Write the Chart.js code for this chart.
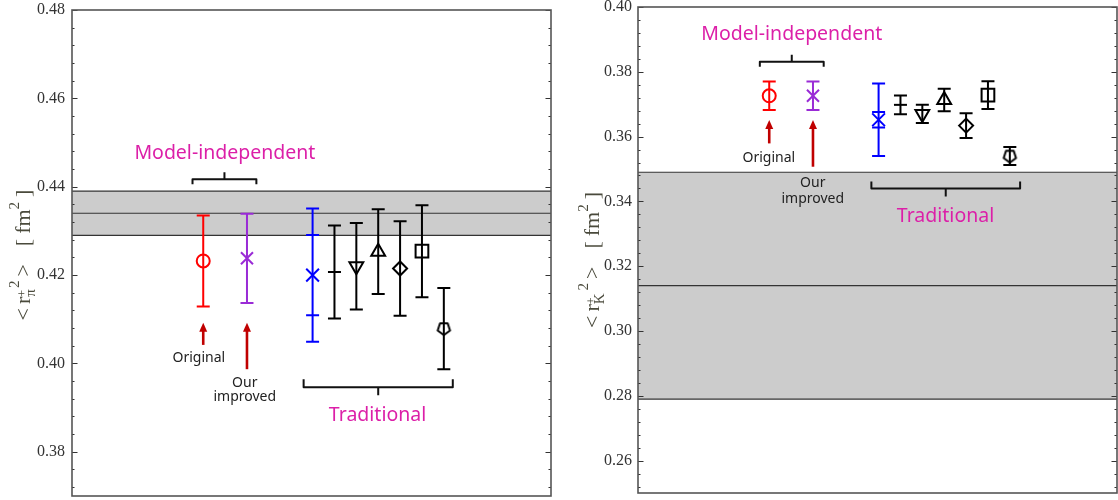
<!DOCTYPE html>
<html><head><meta charset="utf-8">
<script src="https://cdn.jsdelivr.net/npm/chart.js@4.4.1/dist/chart.umd.min.js"></script>
<style>
html,body{margin:0;padding:0;background:#fff;}
body{width:1118px;height:500px;overflow:hidden;position:relative;}
.wrap{position:absolute;top:0;width:559px;height:500px;}
.fontwarm{position:absolute;left:-2000px;top:0;white-space:nowrap;}
</style>
</head><body>
<span class="fontwarm" style="font:16px 'Liberation Serif'">0.48 fm π K + 2 &lt; &gt; [ ]</span>
<span class="fontwarm" style="font:18px 'Noto Sans'">Model-independent Traditional Original Our improved</span>
<div class="wrap" style="left:0"><canvas id="c1" width="559" height="500"></canvas></div>
<div class="wrap" style="left:559px"><canvas id="c2" width="559" height="500"></canvas></div>
<script>
// ---------- data ----------
const slots = [6, 8, 11, 12, 13, 14, 15, 16, 17];
const markerStyles = ['circle', 'crossRot', 'crossRot', 'line', 'triangle', 'triangle', 'rectRot', 'rect', 'pentagon'];
const markerRotation = [0, 0, 0, 0, 180, 0, 0, 0, 0];
const markerRadius = [6.5, 8.5, 9, 6.5, 8, 8, 7, 9, 6];
const markerColors = ['#ff0000', '#9a2bd6', '#0000ff', '#000000', '#000000', '#000000', '#000000', '#000000', '#000000'];

const piValues = [0.4232, 0.4238, 0.4200, 0.4207, 0.4220, 0.4253, 0.4215, 0.4254, 0.4079];
const piErrors = [0.0103, 0.0101, 0.0151, 0.0105, 0.0098, 0.0096, 0.0107, 0.0104, 0.0092];
const piInnerErrors = [0, 0, 0.0091, 0, 0, 0, 0, 0, 0];
const piBand = [0.4290, 0.4340, 0.4390];
const piTicks = [0.38, 0.40, 0.42, 0.44, 0.46, 0.48];

const kValues = [0.3726, 0.3726, 0.3652, 0.3698, 0.3670, 0.3713, 0.3634, 0.3728, 0.3540];
const kErrors = [0.0044, 0.0044, 0.0112, 0.0029, 0.0028, 0.0035, 0.0038, 0.0043, 0.0028];
const kInnerErrors = [0, 0, 0.0024, 0, 0, 0, 0, 0, 0];
const kBand = [0.279, 0.314, 0.349];
const kTicks = [0.26, 0.28, 0.30, 0.32, 0.34, 0.36, 0.38, 0.40];

const MAGENTA = '#dc1fa8';
const ARROW = '#c00000';
const SERIF = "'Liberation Serif'";
const SANS = "'Noto Sans'";

// ---------- helpers ----------
function pentagonImg(r, color, lw) {
  const s = Math.ceil(2 * r + lw * 2 + 2);
  const c = document.createElement('canvas');
  c.width = c.height = s;
  const g = c.getContext('2d');
  g.strokeStyle = color; g.lineWidth = lw; g.lineJoin = 'round';
  g.beginPath();
  for (let k = 0; k < 5; k++) {
    const a = Math.PI / 2 + k * 2 * Math.PI / 5;
    const px = s / 2 + r * Math.cos(a), py = s / 2 + r * Math.sin(a);
    k ? g.lineTo(px, py) : g.moveTo(px, py);
  }
  g.closePath(); g.stroke();
  return c;
}
const pentagon = pentagonImg(6.5, '#000', 2);
const pointStyles = markerStyles.map(s => s === 'pentagon' ? pentagon : s);

function drawRich(ctx, cx, cy, segs, color) {
  ctx.save();
  ctx.translate(cx, cy);
  ctx.rotate(-Math.PI / 2);
  ctx.fillStyle = color;
  ctx.textBaseline = 'alphabetic';
  ctx.textAlign = 'left';
  let total = 0;
  segs.forEach(s => {
    ctx.font = s.size + 'px ' + SERIF;
    s.w = ctx.measureText(s.t).width;
    if (!s.stack) total += s.w + (s.gap || 0);
  });
  let xx = -total / 2;
  let lastX = xx;
  segs.forEach(s => {
    ctx.font = s.size + 'px ' + SERIF;
    if (s.stack) {
      ctx.fillText(s.t, lastX, s.dy || 0);
    } else {
      xx += (s.gap || 0);
      lastX = xx;
      ctx.fillText(s.t, xx, s.dy || 0);
      xx += s.w;
    }
  });
  ctx.restore();
}

function makePanelPlugin(cfg) {
  return {
    id: 'panel' + cfg.id,
    beforeDatasetsDraw(chart) {
      const { ctx, chartArea: a, scales: { x, y } } = chart;
      ctx.save();
      const yl = y.getPixelForValue(cfg.band[0]);
      const ym = y.getPixelForValue(cfg.band[1]);
      const yh = y.getPixelForValue(cfg.band[2]);
      ctx.fillStyle = '#cccccc';
      ctx.fillRect(a.left, yh, a.right - a.left, yl - yh);
      ctx.strokeStyle = '#333';
      ctx.lineWidth = 1.2;
      [yl, ym, yh].forEach(p => {
        ctx.beginPath(); ctx.moveTo(a.left, p); ctx.lineTo(a.right, p); ctx.stroke();
      });
      ctx.lineWidth = 2;
      ctx.lineCap = 'butt';
      cfg.values.forEach((v, i) => {
        const px = x.getPixelForValue(slots[i]);
        const top = y.getPixelForValue(v + cfg.errors[i]);
        const bot = y.getPixelForValue(v - cfg.errors[i]);
        ctx.strokeStyle = markerColors[i];
        ctx.beginPath();
        ctx.moveTo(px, top); ctx.lineTo(px, bot);
        const cw = 6.5;
        const caps = [top, bot];
        if (cfg.inner[i]) {
          caps.push(y.getPixelForValue(v + cfg.inner[i]));
          caps.push(y.getPixelForValue(v - cfg.inner[i]));
        }
        caps.forEach(c => { ctx.moveTo(px - cw, c); ctx.lineTo(px + cw, c); });
        ctx.stroke();
      });
      ctx.restore();
    },
    afterDraw(chart) {
      const { ctx, chartArea: a, scales: { x, y } } = chart;
      ctx.save();
      // tick labels from the y scale's ticks
      ctx.fillStyle = '#333';
      ctx.font = '16px ' + SERIF;
      ctx.textAlign = 'right';
      ctx.textBaseline = 'middle';
      y.ticks.forEach(t => {
        ctx.fillText(Number(t.value).toFixed(2), a.left - cfg.tickPad, y.getPixelForValue(t.value));
      });
      // inward major / minor ticks, both sides
      ctx.strokeStyle = '#333';
      ctx.lineWidth = 1;
      const step = 0.004;
      for (let k = -20; k <= 60; k++) {
        const v = cfg.ticks[0] + k * step;
        if (v < y.min - 1e-9 || v > y.max + 1e-9) continue;
        const p = Math.round(y.getPixelForValue(v)) + 0.5;
        const len = (k % 5 === 0) ? 5.5 : 2.5;
        ctx.beginPath();
        ctx.moveTo(a.left, p); ctx.lineTo(a.left + len, p);
        ctx.moveTo(a.right, p); ctx.lineTo(a.right - len, p);
        ctx.stroke();
      }
      ctx.strokeStyle = '#555';
      ctx.lineWidth = 1.6;
      ctx.strokeRect(a.left, a.top, a.right - a.left, a.bottom - a.top);

      drawRich(ctx, cfg.titleX, cfg.titleY, cfg.titleSegs, '#4a4a3c');

      ctx.strokeStyle = '#111';
      ctx.lineWidth = 2;
      ctx.lineJoin = 'round';
      cfg.brackets.forEach(b => {
        const x1 = x.getPixelForValue(b.x1), x2 = x.getPixelForValue(b.x2);
        const yy = y.getPixelForValue(b.y);
        const xc = (x1 + x2) / 2;
        ctx.beginPath();
        ctx.moveTo(x1, yy + b.arm); ctx.lineTo(x1, yy); ctx.lineTo(x2, yy); ctx.lineTo(x2, yy + b.arm);
        ctx.moveTo(xc, yy); ctx.lineTo(xc, yy + b.tick);
        ctx.stroke();
      });
      ctx.strokeStyle = ARROW; ctx.fillStyle = ARROW;
      cfg.arrows.forEach(ar => {
        const px = x.getPixelForValue(ar.x);
        const y1 = y.getPixelForValue(ar.from), y2 = y.getPixelForValue(ar.to);
        ctx.lineWidth = 2.6;
        ctx.beginPath(); ctx.moveTo(px, y1); ctx.lineTo(px, y2 + 7); ctx.stroke();
        ctx.beginPath();
        ctx.moveTo(px, y2); ctx.lineTo(px - 4, y2 + 9); ctx.lineTo(px + 4, y2 + 9); ctx.closePath(); ctx.fill();
      });
      ctx.textAlign = 'center';
      ctx.textBaseline = 'middle';
      cfg.texts.forEach(t => {
        ctx.fillStyle = t.color;
        ctx.font = t.size + 'px ' + SANS;
        ctx.fillText(t.t, x.getPixelForValue(t.x), y.getPixelForValue(t.y));
      });
      ctx.restore();
    }
  };
}

function makeChart(id, cfg) {
  return new Chart(document.getElementById(id), {
    type: 'scatter',
    data: {
      datasets: [{
        data: cfg.values.map((v, i) => ({ x: slots[i], y: v })),
        pointStyle: pointStyles,
        pointRotation: markerRotation,
        pointRadius: markerRadius,
        pointBorderColor: markerColors,
        pointBackgroundColor: 'rgba(0,0,0,0)',
        pointBorderWidth: 2,
        pointHoverRadius: markerRadius,
        showLine: false
      }]
    },
    options: {
      responsive: false,
      devicePixelRatio: 1,
      animation: false,
      events: [],
      layout: { padding: cfg.padding, autoPadding: false },
      plugins: { legend: { display: false }, tooltip: { enabled: false } },
      scales: {
        x: { type: 'linear', min: 0, max: 21.9, display: false },
        y: {
          type: 'linear', min: cfg.min, max: cfg.max,
          afterBuildTicks: s => { s.ticks = cfg.ticks.map(v => ({ value: v })); },
          afterFit: s => { s.width = cfg.axisWidth; s.paddingTop = 0; s.paddingBottom = 0; },
          grid: { display: false, drawTicks: false },
          border: { display: false },
          ticks: { display: false }
        }
      }
    },
    plugins: [makePanelPlugin(cfg)]
  });
}

function init() {
  makeChart('c1', {
    id: 1,
    values: piValues, errors: piErrors, inner: piInnerErrors, band: piBand, ticks: piTicks,
    min: 0.37, max: 0.48, axisWidth: 72, tickPad: 7,
    padding: { left: 0, right: 8, top: 10, bottom: 4 },
    titleX: 30, titleY: 255,
    titleSegs: [
      { t: '<', size: 22 }, { t: 'r', size: 22, gap: 4 },
      { t: 'π', size: 15, dy: 5 }, { t: '+', size: 12, dy: -4, stack: true, gap: 0 },
      { t: '2', size: 15, dy: -11, gap: 1 }, { t: '>', size: 22, gap: 4 },
      { t: '[', size: 22, gap: 18 }, { t: 'fm', size: 22, gap: 5 }, { t: '2', size: 15, dy: -11 },
      { t: ']', size: 22, gap: 5 }
    ],
    brackets: [
      { x1: 5.51, x2: 8.43, y: 0.4417, arm: 5, tick: -7 },
      { x1: 10.59, x2: 17.41, y: 0.3946, arm: -8, tick: 8 }
    ],
    arrows: [
      { x: 6, from: 0.4042, to: 0.4092 },
      { x: 8, from: 0.3987, to: 0.4092 }
    ],
    texts: [
      { t: 'Model-independent', x: 6.99, y: 0.4476, color: MAGENTA, size: 19.5 },
      { t: 'Original', x: 5.8, y: 0.4012, color: '#222', size: 14 },
      { t: 'Our', x: 7.9, y: 0.3956, color: '#222', size: 14 },
      { t: 'improved', x: 7.9, y: 0.3924, color: '#222', size: 14 },
      { t: 'Traditional', x: 13.97, y: 0.3883, color: MAGENTA, size: 19.5 }
    ]
  });

  makeChart('c2', {
    id: 2,
    values: kValues, errors: kErrors, inner: kInnerErrors, band: kBand, ticks: kTicks,
    min: 0.25, max: 0.40, axisWidth: 79, tickPad: 6,
    padding: { left: 0, right: 1, top: 7, bottom: 7 },
    titleX: 40, titleY: 260,
    titleSegs: [
      { t: '<', size: 22 }, { t: 'r', size: 22, gap: 4 },
      { t: 'K', size: 15, dy: 5 }, { t: '+', size: 12, dy: -4, stack: true, gap: 0 },
      { t: '2', size: 15, dy: -11, gap: 3 }, { t: '>', size: 22, gap: 4 },
      { t: '[', size: 22, gap: 18 }, { t: 'fm', size: 22, gap: 5 }, { t: '2', size: 15, dy: -11 },
      { t: ']', size: 22, gap: 5 }
    ],
    brackets: [
      { x1: 5.57, x2: 8.49, y: 0.3831, arm: 5, tick: -7 },
      { x1: 10.67, x2: 17.47, y: 0.3440, arm: -7, tick: 8 }
    ],
    arrows: [
      { x: 6, from: 0.3579, to: 0.3651 },
      { x: 8, from: 0.3507, to: 0.3651 }
    ],
    texts: [
      { t: 'Model-independent', x: 7.03, y: 0.3914, color: MAGENTA, size: 19.5 },
      { t: 'Original', x: 5.98, y: 0.3535, color: '#222', size: 14 },
      { t: 'Our', x: 7.99, y: 0.3457, color: '#222', size: 14 },
      { t: 'improved', x: 7.99, y: 0.3407, color: '#222', size: 14 },
      { t: 'Traditional', x: 14.06, y: 0.3353, color: MAGENTA, size: 19.5 }
    ]
  });
}

document.fonts.ready.then(init, init);
</script>
</body></html>
